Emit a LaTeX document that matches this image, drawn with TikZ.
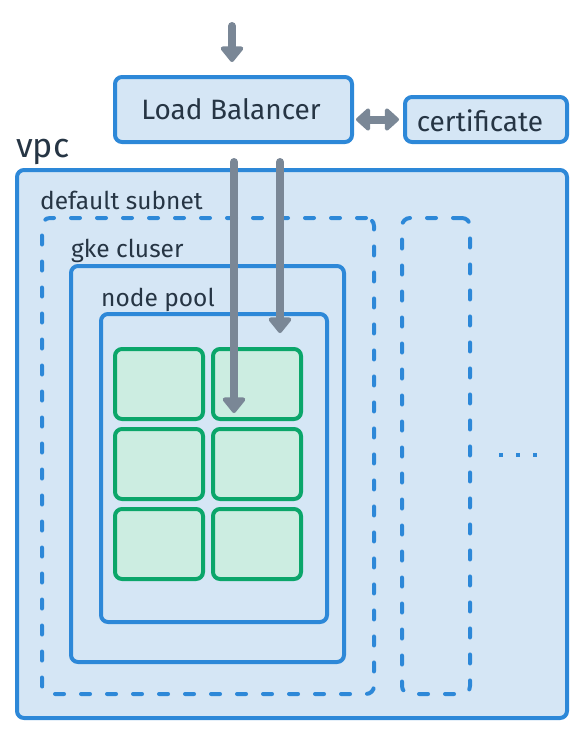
\documentclass[tikz,border=0pt]{standalone}
\usepackage{fontspec}
\setmainfont{Fira Sans}
\usetikzlibrary{arrows.meta}
\definecolor{bord}{HTML}{2D88D8}
\definecolor{bfill}{HTML}{D5E6F5}
\definecolor{gbord}{HTML}{0BA66A}
\definecolor{gfill}{HTML}{CCEDE1}
\definecolor{arr}{HTML}{7A8796}
\definecolor{txt}{HTML}{263544}
\begin{document}
\begin{tikzpicture}[x=1pt,y=-1pt,
  box/.style={draw=bord,fill=bfill,line width=4pt,rounded corners=7pt,inner sep=0pt},
  dbox/.style={draw=bord,line width=4pt,rounded corners=8pt,inner sep=0pt,line cap=round,dash pattern=on 9pt off 17pt},
  cell/.style={draw=gbord,fill=gfill,line width=4pt,rounded corners=7pt,inner sep=0pt,minimum width=88pt,minimum height=70pt},
  lab/.style={text=txt,inner sep=0pt,anchor=base west,font=\fontsize{24.5}{28}\selectfont},
  big/.style={text=txt,inner sep=0pt,anchor=base,font=\fontsize{28}{32}\selectfont},
  flow/.style={draw=arr,line width=8pt,line cap=round,-{Triangle[width=26pt,length=17pt,round]}},
  dflow/.style={draw=arr,line width=8pt,{Triangle[width=26pt,length=15pt,round]}-{Triangle[width=26pt,length=15pt,round]}},
  dotsq/.style={fill=bord,minimum size=4pt,inner sep=0pt}
]
\useasboundingbox (0,0) rectangle (584,736);
% boxes
\node[box,minimum width=237pt,minimum height=65pt] (LB) at (233.5,109.5) {};
\node[box,minimum width=162pt,minimum height=45pt] (cert) at (486,119.5) {};
\node[box,minimum width=550pt,minimum height=548pt] (vpc) at (292,444) {};
\node[dbox,minimum width=332pt,minimum height=476pt] (subnet) at (208,456) {};
\node[dbox,minimum width=68pt,minimum height=476pt] (subnet2) at (436,456) {};
\node[box,minimum width=273pt,minimum height=396pt] (gke) at (207.5,464) {};
\node[box,minimum width=226pt,minimum height=308pt] (pool) at (214,468) {};
% cells
\node[cell] (c11) at (159,384) {};
\node[cell] (c12) at (257,384) {};
\node[cell] (c21) at (159,464) {};
\node[cell] (c22) at (257,464) {};
\node[cell] (c31) at (159,544) {};
\node[cell] (c32) at (257,544) {};
% texts
\node[big] (lbt) at (231,119) {Load Balancer};
\node[big] (certt) at (480,131) {certificate};
\node[text=txt,inner sep=0pt,anchor=base west,font=\fontsize{34}{38}\selectfont] (vpct) at (16,157) {vpc};
\node[lab] (subt) at (40,209) {default subnet};
\node[lab] (gket) at (71,257) {gke cluser};
\node[lab] (poolt) at (101,306) {node pool};
\node[dotsq] (d1) at (501,455) {};
\node[dotsq] (d2) at (518,455) {};
\node[dotsq] (d3) at (535,455) {};
% arrows
\coordinate (in) at (232,26);
\draw[flow,shorten >=13pt] (in) -- (in |- LB.north);
\draw[flow,shorten <=18pt,shorten >=8pt] ([xshift=0.5pt]LB.south) -- ([xshift=0.5pt]LB.south |- c12.south);
\draw[flow,shorten <=18pt,shorten >=14pt] ([xshift=46.5pt]LB.south) -- ([xshift=46.5pt]LB.south |- c12.north);
\draw[dflow,shorten <=2pt,shorten >=4pt] (LB.east |- cert.west) -- (cert.west);
\end{tikzpicture}
\end{document}
